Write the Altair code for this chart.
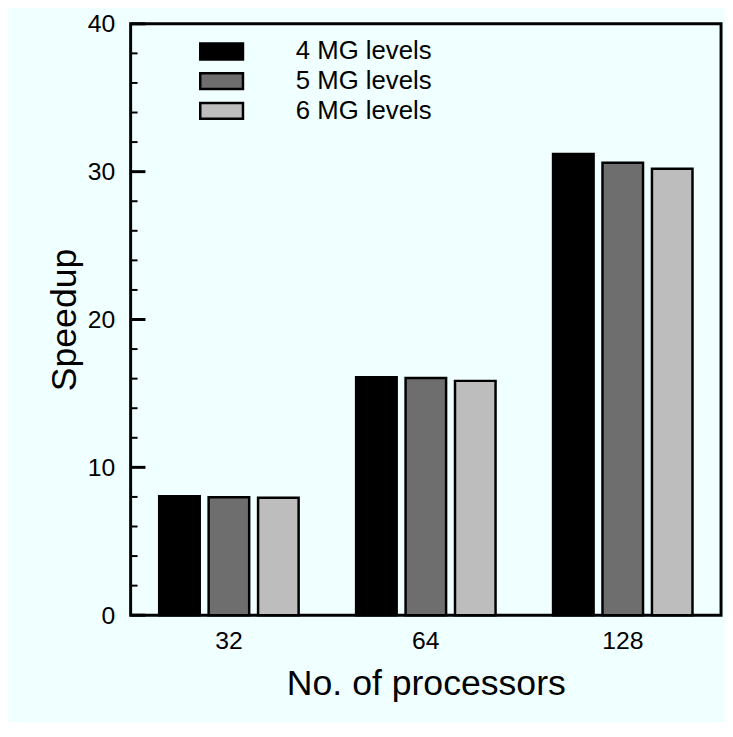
import altair as alt
import pandas as pd

processors = ["32", "64", "128"]
series = ["4 MG levels", "5 MG levels", "6 MG levels"]
mg4 = [8.05, 16.1, 31.2]
mg5 = [7.98, 16.05, 30.6]
mg6 = [7.95, 15.85, 30.2]
colors = ["#000000", "#6e6e6e", "#bdbdbd"]
major_ticks = [0, 10, 20, 30, 40]
minor_ticks = [2, 4, 6, 8, 12, 14, 16, 18, 22, 24, 26, 28, 32, 34, 36, 38]

rows = []
for name, vals in zip(series, [mg4, mg5, mg6]):
    for p, v in zip(processors, vals):
        rows.append({"procs": p, "series": name, "speedup": v})
df = pd.DataFrame(rows)

FONT = "Liberation Sans"
W, H = 597, 598

yscale = alt.Scale(domain=[0, 40], nice=False, zero=True)

bars = alt.Chart(df).mark_bar(stroke="black", strokeWidth=2.5).encode(
    x=alt.X("procs:N", sort=processors, title="No. of processors",
            scale=alt.Scale(paddingInner=0.292, paddingOuter=0.145),
            axis=alt.Axis(labelAngle=0, labelFontSize=25, labelFont=FONT, labelColor="black",
                          titleFontSize=36, titleFont=FONT, titleFontWeight="normal", titleColor="black",
                          ticks=False, domain=False, labelPadding=14, titlePadding=13)),
    xOffset=alt.XOffset("series:N", sort=series,
                        scale=alt.Scale(paddingInner=0.18, paddingOuter=0)),
    y=alt.Y("speedup:Q", scale=yscale, title="Speedup",
            axis=alt.Axis(values=major_ticks, grid=False, ticks=False, domain=False,
                          labelFontSize=25, labelFont=FONT, labelColor="black", labelPadding=16,
                          titleFontSize=36, titleFont=FONT, titleFontWeight="normal", titleColor="black",
                          titlePadding=4)),
    color=alt.Color("series:N", sort=series,
                    scale=alt.Scale(domain=series, range=colors),
                    legend=alt.Legend(title=None, orient="none", legendX=79, legendY=15,
                                      symbolType="M-2.7,-1H2.7V1H-2.7Z", symbolSize=256,
                                      symbolStrokeColor="black", symbolStrokeWidth=2.5,
                                      symbolOpacity=1,
                                      labelFontSize=26, labelFont=FONT, labelColor="black",
                                      labelOffset=62, rowPadding=4, padding=0)),
)

major_df = pd.DataFrame({"v": major_ticks})
minor_df = pd.DataFrame({"v": minor_ticks})

major = alt.Chart(major_df).mark_rule(color="black", strokeWidth=3).encode(
    y=alt.Y("v:Q", scale=yscale), x=alt.value(0), x2=alt.value(15))
minor = alt.Chart(minor_df).mark_rule(color="black", strokeWidth=2).encode(
    y=alt.Y("v:Q", scale=yscale), x=alt.value(0), x2=alt.value(7))

chart = alt.layer(bars, major, minor).properties(
    width=W, height=H, background="#F0FFFF",
    padding={"left": 124, "top": 12, "right": 4, "bottom": 104},
    autosize=alt.AutoSizeParams(type="none"),
).configure_view(stroke="black", strokeWidth=3)

chart.save("out.html", embed_options={"renderer": "svg", "actions": False})
